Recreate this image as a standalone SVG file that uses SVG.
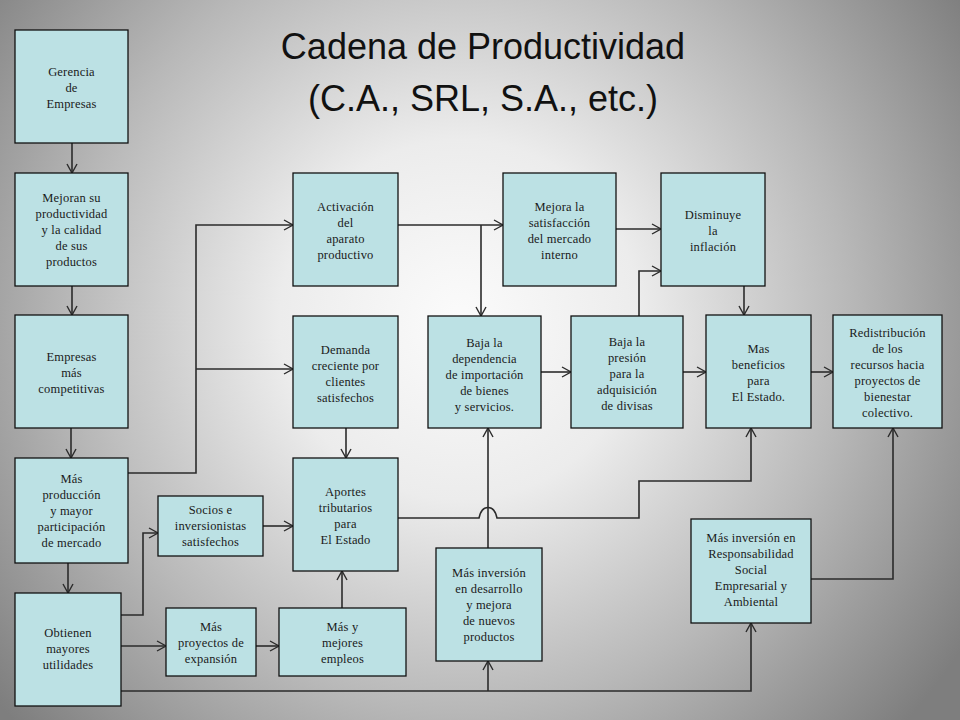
<svg xmlns="http://www.w3.org/2000/svg" width="960" height="720" viewBox="0 0 960 720">
<defs>
<radialGradient id="bg" gradientUnits="userSpaceOnUse" cx="460" cy="320" r="600">
<stop offset="0" stop-color="#fbfbfb"/>
<stop offset="0.3" stop-color="#ececec"/>
<stop offset="0.65" stop-color="#b8b8b8"/>
<stop offset="1" stop-color="#7e7e7e"/>
</radialGradient>
<marker id="arr" markerUnits="userSpaceOnUse" markerWidth="12" markerHeight="12" refX="9" refY="5" orient="auto" viewBox="-1 -1 12 12">
<path d="M0,0 L9,5 L0,10" fill="none" stroke="#2b2b2b" stroke-width="1.4"/>
</marker>
<style>
.box{fill:#bce1e4;stroke:#111;stroke-width:1.3}
.t{font-family:"Liberation Serif","Times New Roman",serif;font-size:12.5px;letter-spacing:0.2px;fill:#1a1a1a;text-anchor:middle}
.c{fill:none;stroke:#2b2b2b;stroke-width:1.6}
.a{marker-end:url(#arr)}
.title{font-family:"Liberation Sans",Arial,sans-serif;font-size:36px;fill:#111;text-anchor:middle}
</style>
</defs>
<rect x="0" y="0" width="960" height="720" fill="url(#bg)"/>
<g id="title">
<text class="title" x="483" y="59">Cadena de Productividad</text>
<text class="title" x="483" y="111">(C.A., SRL, S.A., etc.)</text>
</g>
<g id="connectors">
<path class="c a" d="M72,143 V173"/>
<path class="c a" d="M72,286 V315"/>
<path class="c a" d="M71,428 V458"/>
<path class="c a" d="M68,563 V593"/>
<path class="c a" d="M128,473 H196 V225 H293"/>
<path class="c a" d="M196,369 H293"/>
<path class="c a" d="M121,615 H143 V533 H158"/>
<path class="c a" d="M263,526 H293"/>
<path class="c a" d="M121,646 H166"/>
<path class="c a" d="M256,646 H279"/>
<path class="c a" d="M342,608 V571"/>
<path class="c a" d="M346,428 V458"/>
<path class="c a" d="M398,225 H503"/>
<path class="c a" d="M481,225 V316"/>
<path class="c a" d="M616,229 H661"/>
<path class="c a" d="M639,316 V271 H661"/>
<path class="c a" d="M744,286 V315"/>
<path class="c a" d="M541,372 H571"/>
<path class="c a" d="M683,372 H706"/>
<path class="c a" d="M811,372 H833"/>
<path class="c a" d="M398,518 H479 C482,504 494,504 497,518 H639 V481 H751 V428"/>
<path class="c a" d="M488,548 V428"/>
<path class="c a" d="M121,691 H751 V623"/>
<path class="c a" d="M488,691 V661"/>
<path class="c a" d="M811,579 H893 V428"/>
</g>
<g id="n1"><rect class="box" x="15" y="30" width="113" height="113"/>
<text class="t" y="76"><tspan x="71.5">Gerencia</tspan><tspan x="71.5" dy="16">de</tspan><tspan x="71.5" dy="16">Empresas</tspan></text></g>
<g id="n2"><rect class="box" x="15" y="173" width="113" height="113"/>
<text class="t" y="202"><tspan x="71.5">Mejoran su</tspan><tspan x="71.5" dy="16">productividad</tspan><tspan x="71.5" dy="16">y la calidad</tspan><tspan x="71.5" dy="16">de sus</tspan><tspan x="71.5" dy="16">productos</tspan></text></g>
<g id="n3"><rect class="box" x="15" y="315" width="113" height="113"/>
<text class="t" y="361"><tspan x="71.5">Empresas</tspan><tspan x="71.5" dy="16">más</tspan><tspan x="71.5" dy="16">competitivas</tspan></text></g>
<g id="n4"><rect class="box" x="15" y="458" width="113" height="105"/>
<text class="t" y="483"><tspan x="71.5">Más</tspan><tspan x="71.5" dy="16">producción</tspan><tspan x="71.5" dy="16">y mayor</tspan><tspan x="71.5" dy="16">participación</tspan><tspan x="71.5" dy="16">de mercado</tspan></text></g>
<g id="n5"><rect class="box" x="158" y="496" width="105" height="60"/>
<text class="t" y="514"><tspan x="210.5">Socios e</tspan><tspan x="210.5" dy="16">inversionistas</tspan><tspan x="210.5" dy="16">satisfechos</tspan></text></g>
<g id="n6"><rect class="box" x="15" y="593" width="106" height="113"/>
<text class="t" y="637"><tspan x="68">Obtienen</tspan><tspan x="68" dy="16">mayores</tspan><tspan x="68" dy="16">utilidades</tspan></text></g>
<g id="n7"><rect class="box" x="166" y="608" width="90" height="68"/>
<text class="t" y="631"><tspan x="211">Más</tspan><tspan x="211" dy="16">proyectos de</tspan><tspan x="211" dy="16">expansión</tspan></text></g>
<g id="n8"><rect class="box" x="279" y="608" width="127" height="68"/>
<text class="t" y="631"><tspan x="342.5">Más y</tspan><tspan x="342.5" dy="16">mejores</tspan><tspan x="342.5" dy="16">empleos</tspan></text></g>
<g id="n9"><rect class="box" x="293" y="173" width="105" height="113"/>
<text class="t" y="211"><tspan x="345.5">Activación</tspan><tspan x="345.5" dy="16">del</tspan><tspan x="345.5" dy="16">aparato</tspan><tspan x="345.5" dy="16">productivo</tspan></text></g>
<g id="n10"><rect class="box" x="293" y="316" width="105" height="112"/>
<text class="t" y="354"><tspan x="345.5">Demanda</tspan><tspan x="345.5" dy="16">creciente por</tspan><tspan x="345.5" dy="16">clientes</tspan><tspan x="345.5" dy="16">satisfechos</tspan></text></g>
<g id="n11"><rect class="box" x="428" y="316" width="113" height="112"/>
<text class="t" y="347"><tspan x="484.5">Baja la</tspan><tspan x="484.5" dy="16">dependencia</tspan><tspan x="484.5" dy="16">de importación</tspan><tspan x="484.5" dy="16">de bienes</tspan><tspan x="484.5" dy="16">y servicios.</tspan></text></g>
<g id="n12"><rect class="box" x="293" y="458" width="105" height="113"/>
<text class="t" y="496"><tspan x="345.5">Aportes</tspan><tspan x="345.5" dy="16">tributarios</tspan><tspan x="345.5" dy="16">para</tspan><tspan x="345.5" dy="16">El Estado</tspan></text></g>
<g id="n13"><rect class="box" x="436" y="548" width="106" height="113"/>
<text class="t" y="577"><tspan x="489">Más inversión</tspan><tspan x="489" dy="16">en desarrollo</tspan><tspan x="489" dy="16">y mejora</tspan><tspan x="489" dy="16">de nuevos</tspan><tspan x="489" dy="16">productos</tspan></text></g>
<g id="n14"><rect class="box" x="503" y="173" width="113" height="113"/>
<text class="t" y="211"><tspan x="559.5">Mejora la</tspan><tspan x="559.5" dy="16">satisfacción</tspan><tspan x="559.5" dy="16">del mercado</tspan><tspan x="559.5" dy="16">interno</tspan></text></g>
<g id="n15"><rect class="box" x="661" y="173" width="104" height="113"/>
<text class="t" y="219"><tspan x="713">Disminuye</tspan><tspan x="713" dy="16">la</tspan><tspan x="713" dy="16">inflación</tspan></text></g>
<g id="n16"><rect class="box" x="571" y="316" width="112" height="112"/>
<text class="t" y="346"><tspan x="627">Baja la</tspan><tspan x="627" dy="16">presión</tspan><tspan x="627" dy="16">para la</tspan><tspan x="627" dy="16">adquisición</tspan><tspan x="627" dy="16">de divisas</tspan></text></g>
<g id="n17"><rect class="box" x="706" y="315" width="105" height="113"/>
<text class="t" y="353"><tspan x="758.5">Mas</tspan><tspan x="758.5" dy="16">beneficios</tspan><tspan x="758.5" dy="16">para</tspan><tspan x="758.5" dy="16">El Estado.</tspan></text></g>
<g id="n18"><rect class="box" x="833" y="315" width="109" height="113"/>
<text class="t" y="337"><tspan x="887.5">Redistribución</tspan><tspan x="887.5" dy="16">de los</tspan><tspan x="887.5" dy="16">recursos hacia</tspan><tspan x="887.5" dy="16">proyectos de</tspan><tspan x="887.5" dy="16">bienestar</tspan><tspan x="887.5" dy="16">colectivo.</tspan></text></g>
<g id="n19"><rect class="box" x="691" y="519" width="120" height="104"/>
<text class="t" y="542"><tspan x="751">Más inversión en</tspan><tspan x="751" dy="16">Responsabilidad</tspan><tspan x="751" dy="16">Social</tspan><tspan x="751" dy="16">Empresarial y</tspan><tspan x="751" dy="16">Ambiental</tspan></text></g>
</svg>
